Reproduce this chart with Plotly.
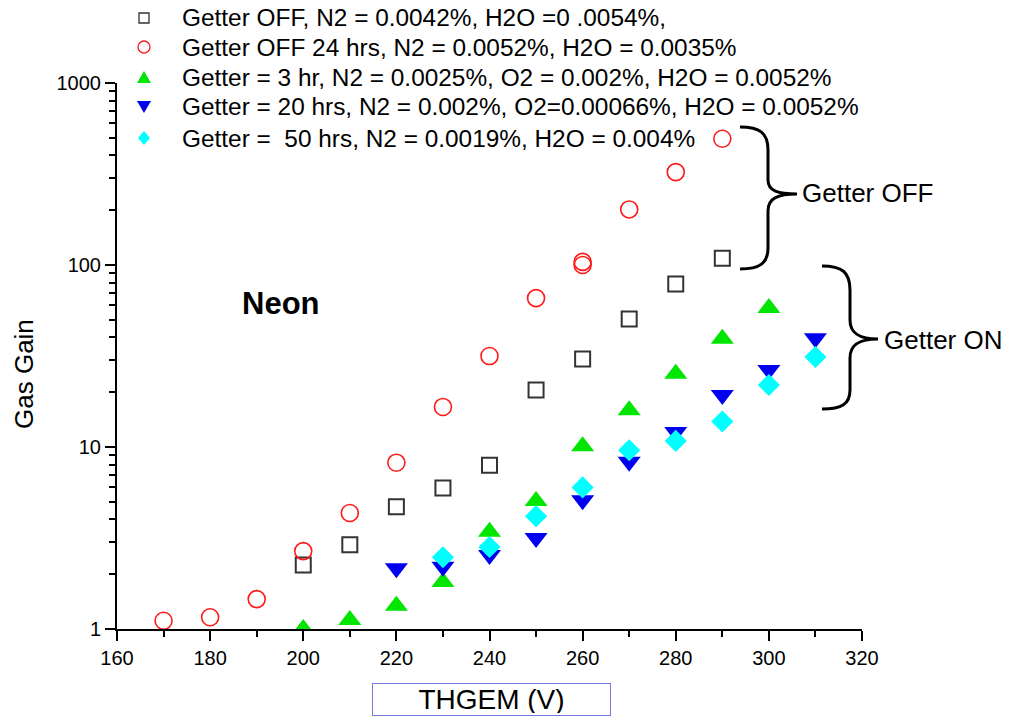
import plotly.graph_objects as go

# ---------------- data ----------------
off_x = [200, 210, 220, 230, 240, 250, 260, 270, 280, 290]
off_y = [2.25, 2.9, 4.7, 5.95, 7.95, 20.6, 30.4, 50.5, 78.7, 109]

off24_x = [170, 180, 190, 200, 210, 220, 230, 240, 250, 260, 260, 270, 280, 290]
off24_y = [1.11, 1.16, 1.46, 2.68, 4.34, 8.2, 16.6, 31.6, 65.8, 100, 104, 202, 324, 494]

g3_x = [200, 210, 220, 230, 240, 250, 260, 270, 280, 290, 300]
g3_y = [1.0, 1.12, 1.34, 1.81, 3.42, 5.05, 10.1, 15.9, 25.3, 39.3, 58]

g20_x = [220, 230, 240, 250, 260, 270, 280, 290, 300, 310]
g20_y = [2.16, 2.2, 2.55, 3.16, 5.1, 8.3, 12.1, 19.3, 26.5, 39.6]

g50_x = [230, 240, 250, 260, 270, 280, 290, 300, 310]
g50_y = [2.48, 2.82, 4.17, 6.0, 9.6, 10.8, 13.8, 21.9, 31.2]

names = [
    "Getter OFF, N2 = 0.0042%, H2O =0 .0054%,",
    "Getter OFF 24 hrs, N2 = 0.0052%, H2O = 0.0035%",
    "Getter = 3 hr, N2 = 0.0025%, O2 = 0.002%, H2O = 0.0052%",
    "Getter = 20 hrs, N2 = 0.002%, O2=0.00066%, H2O = 0.0052%",
    "Getter =\u00a0 50 hrs, N2 = 0.0019%, H2O = 0.004%",
]

x_ticks = [160, 180, 200, 220, 240, 260, 280, 300, 320]
y_ticks = [1, 10, 100, 1000]

# ---------------- layout helpers (screen pixels -> paper) ----------------
W, H = 1011, 717
L, R, T, B = 117, 862, 83, 629   # plot area on screen


def px(x):
    return (x - L) / (R - L)


def py(y):
    return (B - y) / (B - T)


def path(points):
    out = []
    for cmd, pts in points:
        out.append(cmd + " ".join(f"{px(a):.5f},{py(b):.5f}" for a, b in pts))
    return " ".join(out)


FONT = "Liberation Sans, Arial, sans-serif"

colors = ["#333333", "#ff1a1a", "#00e600", "#0000ee", "#00ffff"]

fig = go.Figure()
fig.add_trace(go.Scatter(x=off_x, y=off_y, mode="markers", name=names[0], showlegend=False,
                         marker=dict(symbol="square-open", size=15, color=colors[0],
                                     line=dict(width=2, color=colors[0]))))
fig.add_trace(go.Scatter(x=off24_x, y=off24_y, mode="markers", name=names[1], showlegend=False,
                         marker=dict(symbol="circle-open", size=17, color=colors[1],
                                     line=dict(width=1.6, color=colors[1]))))
fig.add_trace(go.Scatter(x=g3_x, y=g3_y, mode="markers", name=names[2], showlegend=False,
                         marker=dict(symbol="triangle-up", size=20, color=colors[2])))
fig.add_trace(go.Scatter(x=g20_x, y=g20_y, mode="markers", name=names[3], showlegend=False,
                         marker=dict(symbol="triangle-down", size=20, color=colors[3])))
fig.add_trace(go.Scatter(x=g50_x, y=g50_y, mode="markers", name=names[4], showlegend=False,
                         marker=dict(symbol="diamond", size=17, color=colors[4])))

shapes = [
    dict(type="path", xref="paper", yref="paper",
         path=path([("M", [(740, 127)]),
                    ("C", [(760, 127), (768, 133), (768, 150)]),
                    ("L", [(768, 180)]),
                    ("C", [(768, 191), (778, 194), (797, 194)]),
                    ("C", [(778, 194), (768, 198), (768, 211)]),
                    ("L", [(768, 248)]),
                    ("C", [(768, 263), (760, 269), (740, 269)])]),
         line=dict(color="black", width=3)),
    dict(type="path", xref="paper", yref="paper",
         path=path([("M", [(822, 266)]),
                    ("C", [(842, 266), (850, 272), (850, 290)]),
                    ("L", [(850, 320)]),
                    ("C", [(850, 334), (860, 339), (878, 339)]),
                    ("C", [(860, 339), (850, 344), (850, 358)]),
                    ("L", [(850, 390)]),
                    ("C", [(850, 404), (842, 409), (822, 409)])]),
         line=dict(color="black", width=3)),
]

# ---- manual legend (glyph + text per row) ----
rows = [18, 47, 77, 107, 138]
mx = 144
legend_glyphs = [
    dict(type="rect", x0=px(mx - 5), x1=px(mx + 5), y0=py(rows[0] - 5), y1=py(rows[0] + 5),
         line=dict(color=colors[0], width=1.3)),
    dict(type="circle", x0=px(mx - 6), x1=px(mx + 6), y0=py(rows[1] - 6), y1=py(rows[1] + 6),
         line=dict(color=colors[1], width=1.3)),
    dict(type="path", path=path([("M", [(mx - 7, rows[2] + 6)]), ("L", [(mx + 7, rows[2] + 6)]),
                                 ("L", [(mx, rows[2] - 6)])]) + " Z",
         fillcolor=colors[2], line=dict(width=0)),
    dict(type="path", path=path([("M", [(mx - 7, rows[3] - 6)]), ("L", [(mx + 7, rows[3] - 6)]),
                                 ("L", [(mx, rows[3] + 6)])]) + " Z",
         fillcolor=colors[3], line=dict(width=0)),
    dict(type="path", path=path([("M", [(mx, rows[4] - 7)]), ("L", [(mx + 6, rows[4])]),
                                 ("L", [(mx, rows[4] + 7)]), ("L", [(mx - 6, rows[4])])]) + " Z",
         fillcolor=colors[4], line=dict(width=0)),
]
for g in legend_glyphs:
    g.update(xref="paper", yref="paper")
    shapes.append(g)

annotations = []
for name, ry in zip(names, rows):
    annotations.append(dict(text=name, x=px(180), y=py(ry), xref="paper", yref="paper",
                            xanchor="left", yanchor="middle", showarrow=False,
                            font=dict(size=24.4, color="black", family=FONT)))

annotations += [
    dict(text="<b>Neon</b>", x=px(281), y=py(303), xref="paper", yref="paper",
         xanchor="center", yanchor="middle",
         showarrow=False, font=dict(size=31, color="black", family=FONT)),
    dict(text="Getter OFF", x=px(800), y=py(193), xref="paper", yref="paper",
         xanchor="left", yanchor="middle", showarrow=False,
         font=dict(size=26, color="black", family=FONT)),
    dict(text="Getter ON", x=px(882), y=py(340), xref="paper", yref="paper",
         xanchor="left", yanchor="middle", showarrow=False,
         font=dict(size=26, color="black", family=FONT)),
    dict(text="Gas Gain", x=px(24), y=py(374), xref="paper", yref="paper",
         xanchor="center", yanchor="middle",
         textangle=-90, showarrow=False, font=dict(size=26, color="black", family=FONT)),
    dict(text="THGEM (V)", x=px(491.5), y=py(699.5), xref="paper", yref="paper",
         xanchor="center", yanchor="middle",
         showarrow=False, width=233, height=27, borderpad=2, bordercolor="#7777dd",
         borderwidth=1, bgcolor="white",
         font=dict(size=28, color="black", family=FONT)),
]

fig.update_layout(
    width=W, height=H,
    margin=dict(l=L, r=W - R, t=T, b=H - B, autoexpand=False),
    paper_bgcolor="white", plot_bgcolor="white",
    font=dict(family=FONT, color="black", size=20),
    showlegend=False,
    hovermode=False,
    shapes=shapes,
    annotations=annotations,
    xaxis=dict(range=[160, 320], tickvals=x_ticks, ticktext=[str(v) for v in x_ticks],
               showgrid=False, zeroline=False, showline=True, linecolor="black", linewidth=2,
               ticks="outside", ticklen=10, tickwidth=2, tickcolor="black",
               tickfont=dict(size=20, family=FONT),
               minor=dict(dtick=10, ticks="outside", ticklen=6, tickwidth=2, tickcolor="black"),
               mirror=False),
    yaxis=dict(type="log", range=[0, 3], tickvals=y_ticks, ticktext=[str(v) for v in y_ticks],
               showgrid=False, zeroline=False, showline=True, linecolor="black", linewidth=2,
               ticks="outside", ticklen=10, tickwidth=2, tickcolor="black",
               tickfont=dict(size=20, family=FONT),
               minor=dict(dtick="D1", ticks="outside", ticklen=6, tickwidth=1.5, tickcolor="black"),
               mirror=False),
)

# remove the browser's default 8px page margin so the figure sits at the window origin
fig.write_html("out.html", config={"displayModeBar": False},
               post_script="document.body.style.margin='0';")
